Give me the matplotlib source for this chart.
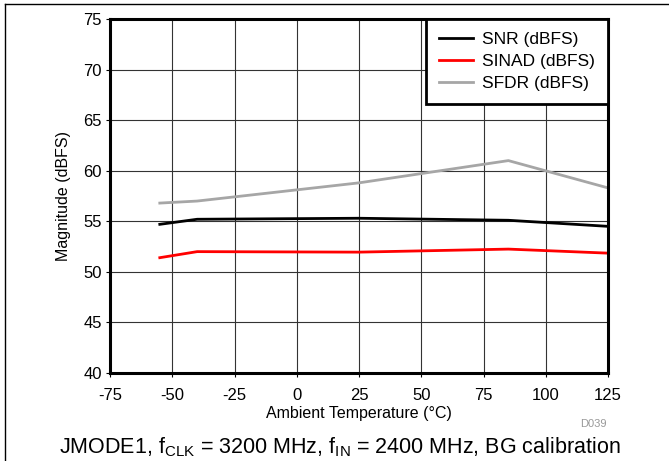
import matplotlib
matplotlib.use("Agg")
import matplotlib.pyplot as plt
from matplotlib.lines import Line2D

plt.rcParams['font.family'] = ['Liberation Sans', 'DejaVu Sans']
plt.rcParams['mathtext.fontset'] = 'custom'
plt.rcParams['mathtext.rm'] = 'Liberation Sans'
plt.rcParams['axes.unicode_minus'] = False

# temperatures (degC) and measured values (dBFS)
temps = [-55, -40, 25, 85, 125]
snr = [54.7, 55.2, 55.3, 55.1, 54.5]
sinad = [51.4, 52.0, 51.95, 52.25, 51.85]
sfdr = [56.8, 57.0, 58.8, 61.0, 58.3]

xticks = [-75, -50, -25, 0, 25, 50, 75, 100, 125]
yticks = [40, 45, 50, 55, 60, 65, 70, 75]

fig = plt.figure(figsize=(6.69, 4.61), dpi=100)
ax = fig.add_axes([110 / 669, 1 - 373 / 461, 498 / 669, 354 / 461])

ax.plot(temps, snr, color='black', lw=2, label='SNR (dBFS)')
ax.plot(temps, sinad, color='#ff0000', lw=2, label='SINAD (dBFS)')
ax.plot(temps, sfdr, color='#a6a6a6', lw=2, label='SFDR (dBFS)')

ax.set_xlim(-75, 125)
ax.set_ylim(40, 75)
ax.set_xticks(xticks)
ax.set_yticks(yticks)
ax.tick_params(labelsize=12, length=3, width=0.8, direction='out')
ax.tick_params(axis='x', pad=8)
ax.tick_params(axis='y', pad=3)
ax.grid(True, color='#333333', lw=0.8)
ax.set_axisbelow(True)
for s in ax.spines.values():
    s.set_linewidth(2.2)

ax.set_xlabel('Ambient Temperature (°C)', fontsize=11.5, labelpad=2)
ax.set_ylabel('Magnitude (dBFS)', fontsize=11.5, labelpad=9)

leg = ax.legend(loc='upper right', fontsize=12.5, frameon=True, fancybox=False,
                borderaxespad=0, handlelength=2.0, handletextpad=0.5,
                labelspacing=0.4, borderpad=0.75)
leg.get_frame().set_edgecolor('black')
leg.get_frame().set_linewidth(2)
leg.get_frame().set_alpha(1)

fig.text(593 / 669, 1 - 424 / 461, 'D039', fontsize=8, color='#999999',
         ha='center', va='center')
fig.text(340 / 669, 1 - 447 / 461,
         r'JMODE1, f$_\mathregular{CLK}$ = 3200 MHz, f$_\mathregular{IN}$ = 2400 MHz, BG calibration',
         fontsize=15.5, ha='center', va='center')

# outer frame (top and left edges)
fig.add_artist(Line2D([5 / 669, 1], [1 - 4 / 461, 1 - 4 / 461], color='black', lw=1))
fig.add_artist(Line2D([5 / 669, 5 / 669], [0, 1 - 4 / 461], color='black', lw=1))

fig.savefig('out.png', dpi=100)
